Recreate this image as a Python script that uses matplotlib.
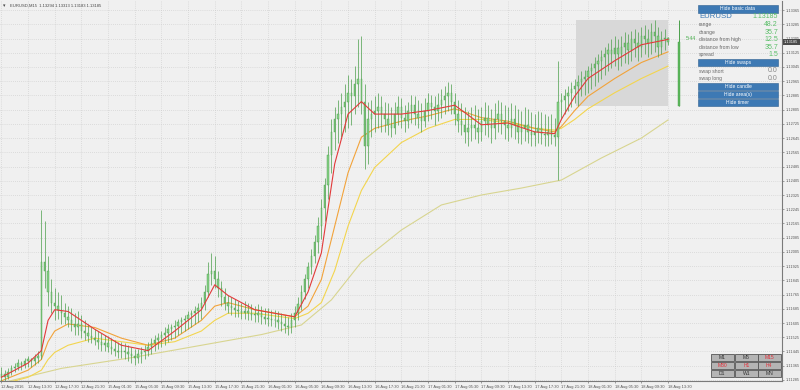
import matplotlib
matplotlib.use('Agg')
import matplotlib.pyplot as plt
from matplotlib.patches import Rectangle
import numpy as np

# ---------------- data (EURUSD, 30-min bars drawn) ----------------
high = [1.1136,1.1134,1.1135,1.1137,1.1138,1.1140,1.1139,1.1141,1.1142,1.1141,
        1.1143,1.1145,1.1224,1.1218,1.1198,1.1185,1.1180,1.1178,1.1176,1.1172,
        1.1170,1.1169,1.1166,1.1167,1.1165,1.1162,1.1160,1.1158,1.1157,1.1156,
        1.1155,1.1154,1.1153,1.1152,1.1151,1.1150,1.1150,1.1149,1.1148,1.1147,
        1.1146,1.1146,1.1147,1.1148,1.1150,1.1152,1.1154,1.1155,1.1156,1.1158,
        1.1160,1.1160,1.1162,1.1163,1.1164,1.1165,1.1167,1.1168,1.1170,1.1172,
        1.1175,1.1182,1.1195,1.1200,1.1198,1.1190,1.1184,1.1180,1.1176,1.1175,
        1.1174,1.1173,1.1172,1.1173,1.1172,1.1171,1.1170,1.1171,1.1170,1.1169,
        1.1169,1.1168,1.1168,1.1167,1.1166,1.1165,1.1164,1.1166,1.1170,1.1175,
        1.1182,1.1188,1.1195,1.1202,1.1210,1.1220,1.1230,1.1242,1.1260,1.1275,
        1.1282,1.1286,1.1290,1.1295,1.1300,1.1298,1.1305,1.1320,1.1322,1.1295,
        1.1285,1.1286,1.1288,1.1290,1.1288,1.1285,1.1284,1.1282,1.1285,1.1288,
        1.1287,1.1283,1.1285,1.1289,1.1288,1.1286,1.1284,1.1287,1.1290,1.1289,
        1.1288,1.1290,1.1292,1.1294,1.1296,1.1295,1.1290,1.1286,1.1284,1.1282,
        1.1280,1.1282,1.1283,1.1281,1.1282,1.1285,1.1283,1.1281,1.1284,1.1286,
        1.1285,1.1283,1.1282,1.1284,1.1283,1.1281,1.1280,1.1282,1.1281,1.1279,
        1.1278,1.1280,1.1279,1.1278,1.1277,1.1278,1.1276,1.1308,1.1290,1.1292,
        1.1294,1.1296,1.1298,1.1300,1.1302,1.1303,1.1305,1.1307,1.1310,1.1312,
        1.1314,1.1316,1.1318,1.1320,1.1322,1.1320,1.1322,1.1324,1.1323,1.1325,
        1.1326,1.1324,1.1327,1.1328,1.1326,1.1329,1.1331,1.1327,1.1325,1.1326,
        1.13213]
low = [1.1127,1.1127,1.1129,1.1131,1.1133,1.1134,1.1134,1.1135,1.1136,1.1136,
       1.1137,1.1138,1.1140,1.1180,1.1170,1.1166,1.1162,1.1163,1.1160,1.1160,
       1.1158,1.1156,1.1154,1.1154,1.1152,1.1151,1.1150,1.1149,1.1148,1.1146,
       1.1145,1.1145,1.1144,1.1143,1.1142,1.1141,1.1141,1.1140,1.1139,1.1138,
       1.1137,1.1138,1.1138,1.1140,1.1142,1.1143,1.1145,1.1146,1.1147,1.1148,
       1.1150,1.1151,1.1152,1.1154,1.1155,1.1156,1.1157,1.1158,1.1160,1.1161,
       1.1163,1.1168,1.1175,1.1182,1.1180,1.1175,1.1170,1.1168,1.1166,1.1165,
       1.1164,1.1164,1.1163,1.1163,1.1162,1.1162,1.1161,1.1161,1.1160,1.1160,
       1.1159,1.1159,1.1158,1.1157,1.1156,1.1155,1.1154,1.1155,1.1158,1.1162,
       1.1168,1.1174,1.1180,1.1188,1.1194,1.1200,1.1208,1.1218,1.1230,1.1245,
       1.1258,1.1262,1.1265,1.1268,1.1270,1.1272,1.1278,1.1282,1.1278,1.1247,
       1.1250,1.1265,1.1268,1.1270,1.1268,1.1268,1.1266,1.1265,1.1267,1.1272,
       1.1270,1.1268,1.1270,1.1273,1.1272,1.1270,1.1268,1.1271,1.1274,1.1275,
       1.1272,1.1274,1.1276,1.1278,1.1280,1.1278,1.1272,1.1268,1.1266,1.1262,
       1.1260,1.1263,1.1264,1.1262,1.1263,1.1266,1.1265,1.1262,1.1264,1.1268,
       1.1267,1.1264,1.1263,1.1265,1.1264,1.1262,1.1261,1.1263,1.1262,1.1260,
       1.1260,1.1262,1.1261,1.1260,1.1260,1.1261,1.1260,1.1241,1.1275,1.1278,
       1.1280,1.1282,1.1284,1.12828,1.1288,1.1289,1.1290,1.1292,1.1294,1.1296,
       1.1298,1.1300,1.1302,1.1304,1.1305,1.1303,1.1305,1.1307,1.1306,1.1308,
       1.1310,1.1308,1.1310,1.1312,1.1310,1.1312,1.1313,1.1310,1.1312,1.1314,
       1.1317]
close = [1.1132,1.1130,1.1133,1.1135,1.1136,1.1138,1.1137,1.1139,1.1140,1.1139,
         1.1141,1.1142,1.1195,1.1190,1.1178,1.1172,1.1170,1.1168,1.1166,1.1164,
         1.1162,1.1160,1.1158,1.1160,1.1156,1.1155,1.1153,1.1152,1.1151,1.1150,
         1.1148,1.1149,1.1147,1.1146,1.1145,1.1144,1.1145,1.1144,1.1143,1.1142,
         1.1141,1.1143,1.1144,1.1145,1.1147,1.1149,1.1151,1.1152,1.1154,1.1155,
         1.1157,1.1158,1.1159,1.1161,1.1162,1.1163,1.1165,1.1166,1.1167,1.1169,
         1.1172,1.1178,1.1188,1.1190,1.1185,1.1180,1.1175,1.1172,1.1170,1.1169,
         1.1168,1.1167,1.1166,1.1167,1.1166,1.1165,1.1165,1.1166,1.1164,1.1163,
         1.1163,1.1162,1.1162,1.1161,1.1160,1.1159,1.1158,1.1162,1.1166,1.1171,
         1.1178,1.1185,1.1192,1.1198,1.1206,1.1215,1.1225,1.1238,1.1255,1.1268,
         1.1275,1.1278,1.1282,1.1285,1.1290,1.1288,1.1295,1.1298,1.1285,1.1260,
         1.1275,1.1278,1.1280,1.1282,1.1278,1.1275,1.1272,1.1270,1.1278,1.1282,
         1.1276,1.1274,1.1280,1.1283,1.1278,1.1276,1.1274,1.1280,1.1284,1.1282,
         1.1280,1.1283,1.1286,1.1288,1.1290,1.1285,1.1278,1.1274,1.1272,1.1268,
         1.1270,1.1272,1.1270,1.1268,1.1274,1.1276,1.1272,1.1270,1.1275,1.1278,
         1.1274,1.1272,1.1270,1.1275,1.1272,1.1268,1.1270,1.1272,1.1268,1.1266,
         1.1268,1.1270,1.1267,1.1266,1.1268,1.1266,1.1265,1.1285,1.1286,1.1288,
         1.1290,1.1292,1.1294,1.1296,1.1298,1.1299,1.1302,1.1304,1.1306,1.1308,
         1.1310,1.1312,1.1314,1.1312,1.1315,1.1312,1.1316,1.1318,1.1314,1.1320,
         1.1318,1.1316,1.1322,1.1320,1.1318,1.1324,1.1322,1.1316,1.1320,1.1321,
         1.13185]
open_first = 1.1130

# moving averages (knot bar index, value)
ma_k = [0, 8, 12, 14, 16, 20, 28, 36, 44, 52, 60, 64, 68, 76, 88, 92, 96, 100,
        104, 108, 112, 120, 128, 136, 144, 152, 160, 166, 168, 172, 176, 184, 192, 200]
ma_red = [1.1130, 1.1138, 1.1145, 1.1162, 1.1168, 1.1167, 1.1157, 1.1148, 1.1145,
          1.1156, 1.1168, 1.1182, 1.1176, 1.1168, 1.1164, 1.1178, 1.1200, 1.1250,
          1.1278, 1.1285, 1.1278, 1.1278, 1.1280, 1.1283, 1.1272, 1.1273, 1.1268,
          1.1267, 1.1275, 1.1288, 1.1298, 1.1308, 1.1317, 1.1320]
ma_orange = [1.1128, 1.1134, 1.1140, 1.1150, 1.1156, 1.1160, 1.1158, 1.1152, 1.1148,
             1.1152, 1.1162, 1.1170, 1.1172, 1.1168, 1.1164, 1.1170, 1.1185, 1.1215,
             1.1245, 1.1265, 1.1270, 1.1274, 1.1277, 1.1281, 1.1276, 1.1274, 1.1270,
             1.1268, 1.1271, 1.1280, 1.1288, 1.1298, 1.1307, 1.1313]
ma_yellow = [1.1126, 1.1130, 1.1134, 1.1140, 1.1144, 1.1148, 1.1152, 1.1150, 1.1148,
             1.1150, 1.1156, 1.1162, 1.1166, 1.1166, 1.1163, 1.1166, 1.1172, 1.1190,
             1.1215, 1.1235, 1.1248, 1.1262, 1.1270, 1.1275, 1.1275, 1.1273, 1.1270,
             1.1269, 1.1270, 1.1275, 1.1281, 1.1290, 1.1298, 1.1305]
slow_k = [0, 18, 39, 60, 78, 90, 99, 108, 120, 132, 144, 156, 168, 180, 192, 200]
ma_slow = [1.11268, 1.1135, 1.1141, 1.1148, 1.1154, 1.11594, 1.11735, 1.11948,
           1.12128, 1.12269, 1.12325, 1.12364, 1.12409, 1.12533, 1.12645, 1.12747]

tick_pos = list(range(0, 201, 8))
tick_lab = ["12 Aug 2016", "12 Aug 13:30", "12 Aug 17:30", "12 Aug 21:30",
            "15 Aug 01:30", "15 Aug 05:30", "15 Aug 09:30", "15 Aug 13:30",
            "15 Aug 17:30", "15 Aug 21:30", "16 Aug 01:30", "16 Aug 05:30",
            "16 Aug 09:30", "16 Aug 13:30", "16 Aug 17:30", "16 Aug 21:30",
            "17 Aug 01:30", "17 Aug 05:30", "17 Aug 09:30", "17 Aug 13:30",
            "17 Aug 17:30", "17 Aug 21:30", "18 Aug 01:30", "18 Aug 05:30",
            "18 Aug 09:30", "18 Aug 13:30"]
price_ticks = [1.13365 - 0.0008 * i for i in range(27)]

day_high = 1.13310
day_low = 1.12828
day_open = 1.12828
last = 1.13185
day_start = 173

# ---------------- figure ----------------
BG = '#f0f0f0'
FONT = 'Liberation Sans'
fig = plt.figure(figsize=(8, 3.9), dpi=100)
fig.patch.set_facecolor(BG)
ax = fig.add_axes([0, 9 / 390, 782 / 800, 380 / 390])
ax.set_facecolor(BG)
ax.set_xlim(-0.42, 234.2)
ax.set_ylim(1.11279, 1.13416)

for s in ['top', 'left']:
    ax.spines[s].set_visible(False)
for s in ['right', 'bottom']:
    ax.spines[s].set_color('#7a7a7a')
    ax.spines[s].set_linewidth(0.8)

# grid
for p in price_ticks:
    ax.axhline(p, color='#c8c8c8', lw=0.5, ls=(0, (1, 2)), zorder=0)
for t in tick_pos:
    ax.axvline(t, color='#c8c8c8', lw=0.5, ls=(0, (1, 2)), zorder=0)

ax.yaxis.tick_right()
ax.set_yticks(price_ticks)
ax.set_yticklabels([f"{p:.5f}" for p in price_ticks], fontsize=2.8, color='#555555',
                   family=FONT)
ax.tick_params(axis='y', length=1.5, width=0.5, color='#7a7a7a', pad=0.8)
ax.set_xticks(tick_pos)
ax.set_xticklabels(tick_lab, fontsize=2.9, color='#555555', family=FONT)
for lbl in ax.get_xticklabels():
    lbl.set_ha('left')
ax.tick_params(axis='x', length=1.5, width=0.5, color='#7a7a7a', pad=1.5)

# day range area
ax.add_patch(Rectangle((day_start - 0.5, day_low), 200 - day_start + 0.5,
                       day_high - day_low, facecolor='#d8d8d8', edgecolor='none', zorder=1))

# moving averages
ax.plot(slow_k, ma_slow, color='#d8d590', lw=0.8, zorder=2)
ax.plot(ma_k, ma_yellow, color='#f3d54e', lw=0.8, zorder=2)
ax.plot(ma_k, ma_orange, color='#f2a33a', lw=0.8, zorder=2)

# bars
n = len(close)
xs = np.arange(n)
opens = [open_first] + close[:-1]
ax.vlines(xs, low, high, color='#4a9f4a', lw=0.5, zorder=3)
bottoms = [min(o, c) for o, c in zip(opens, close)]
heights = [max(abs(c - o), 0.00003) for o, c in zip(opens, close)]
ax.bar(xs, heights, bottom=bottoms, width=0.45, color='#86cf86', edgecolor='#4a9f4a',
       linewidth=0.3, zorder=3)

ax.plot(ma_k, ma_red, color='#e23a3a', lw=0.8, zorder=4)

# big daily candle
ax.vlines(203.3, day_low, day_high, color='#4a9f4a', lw=0.7, zorder=3)
ax.bar(203.3, last - day_open, bottom=day_open, width=0.6, color='#5cb85c',
       edgecolor='#4a9f4a', linewidth=0.3, zorder=3)
ax.text(205.3, 1.13205, "5:44", fontsize=3.8, color='#4caf50', family=FONT,
        va='center', ha='left')

# header text
fig.text(10 / 800, 1 - 6 / 390, "EURUSD,M15  1.13294 1.13313 1.13183 1.13185", fontsize=3.0,
         color='#444444', family=FONT, va='center', ha='left')
fig.text(4 / 800, 1 - 6 / 390, "\u25BE", fontsize=3.5, color='#444444', va='center', ha='center')

# current price label
ax.annotate(f"{last:.5f}", xy=(1.0, last), xycoords=('axes fraction', 'data'),
            xytext=(1.5, 0), textcoords='offset points', fontsize=2.8, color='white',
            family=FONT, va='center', ha='left',
            bbox=dict(boxstyle='square,pad=0.3', fc='#4a4a4a', ec='none'))

# ---------------- info panel (figure pixel coords) ----------------
def fx(px):
    return px / 800
def fy(py):
    return 1 - py / 390

BTN = '#3d79b4'
def button(y0, y1, text):
    fig.patches.append(Rectangle((fx(698), fy(y1)), fx(778) - fx(698), fy(y0) - fy(y1),
                                 transform=fig.transFigure, facecolor=BTN,
                                 edgecolor='#2d5f8f', linewidth=0.4))
    fig.text(fx(738), fy((y0 + y1) / 2), text, fontsize=3.6, color='white',
             family=FONT, ha='center', va='center')

button(5.5, 12.5, "Hide basic data")
fig.text(fx(699), fy(17), "EURUSD", fontsize=5.6, color='#3d79b4', family=FONT,
         ha='left', va='center')
fig.text(fx(778), fy(17), "1.13185", fontsize=5.0, color='#5cbf6a', family=FONT,
         ha='right', va='center')
rows = [("range", "48.2"), ("change", "35.7"), ("distance from high", "12.5"),
        ("distance from low", "35.7"), ("spread", "1.5")]
for i, (a, b) in enumerate(rows):
    y = 24.5 + i * 7.6
    fig.text(fx(699), fy(y), a, fontsize=3.6, color='#666666', family=FONT,
             ha='left', va='center')
    fig.text(fx(778), fy(y), b, fontsize=5.0, color='#5cbf6a', family=FONT,
             ha='right', va='center')
button(59, 66, "Hide swaps")
for i, (a, b) in enumerate([("swap short", "0.0"), ("swap long", "0.0")]):
    y = 71 + i * 7.5
    fig.text(fx(699), fy(y), a, fontsize=3.6, color='#666666', family=FONT,
             ha='left', va='center')
    fig.text(fx(778), fy(y), b, fontsize=5.0, color='#888888', family=FONT,
             ha='right', va='center')
button(83, 90, "Hide candle")
button(91, 98, "Hide area(s)")
button(99, 106, "Hide timer")

# timeframe buttons
tfs = [["M1", "M5", "M15"], ["M30", "H1", "H4"], ["D1", "W1", "MN"]]
red = {"M15", "M30", "H1", "H4"}
xs0 = [711, 735, 758]
for r, row in enumerate(tfs):
    for c, lab in enumerate(row):
        x0 = xs0[c]
        y0 = 353.5 + r * 8
        fig.patches.append(Rectangle((fx(x0), fy(y0 + 7.5)), fx(22.5), 7.5 / 390,
                                     transform=fig.transFigure, facecolor='#b4b4b4',
                                     edgecolor='#555555', linewidth=0.6))
        fig.text(fx(x0 + 11.25), fy(y0 + 3.9), lab, fontsize=3.6,
                 color='#e0303a' if lab in red else '#333333', family=FONT,
                 ha='center', va='center')

fig.savefig('out.png', dpi=100, facecolor=BG)
